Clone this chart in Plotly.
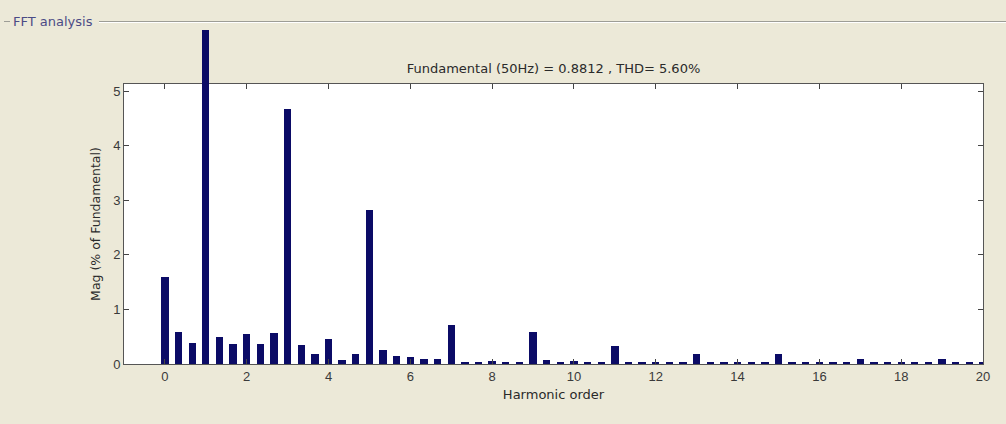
import plotly.graph_objects as go

# ---------------- data ----------------
harmonic_order = [0.0, 0.333, 0.667, 1.0, 1.333, 1.667, 2.0, 2.333, 2.667, 3.0,
                  3.333, 3.667, 4.0, 4.333, 4.667, 5.0, 5.333, 5.667, 6.0, 6.333,
                  6.667, 7.0, 7.333, 7.667, 8.0, 8.333, 8.667, 9.0, 9.333, 9.667,
                  10.0, 10.333, 10.667, 11.0, 11.333, 11.667, 12.0, 12.333, 12.667, 13.0,
                  13.333, 13.667, 14.0, 14.333, 14.667, 15.0, 15.333, 15.667, 16.0, 16.333,
                  16.667, 17.0, 17.333, 17.667, 18.0, 18.333, 18.667, 19.0, 19.333, 19.667,
                  20.0]
mag_pct = [1.60, 0.59, 0.39, 100.0, 0.50, 0.37, 0.55, 0.37, 0.57, 4.67,
           0.34, 0.18, 0.45, 0.07, 0.18, 2.82, 0.25, 0.14, 0.12, 0.09,
           0.09, 0.71, 0.02, 0.04, 0.05, 0.02, 0.02, 0.59, 0.07, 0.04,
           0.05, 0.04, 0.04, 0.33, 0.02, 0.02, 0.03, 0.02, 0.02, 0.18,
           0.02, 0.02, 0.02, 0.02, 0.02, 0.18, 0.02, 0.02, 0.02, 0.02,
           0.02, 0.10, 0.02, 0.02, 0.02, 0.02, 0.02, 0.10, 0.02, 0.02,
           0.02]
x_ticks = [0, 2, 4, 6, 8, 10, 12, 14, 16, 18, 20]
y_ticks = [0, 1, 2, 3, 4, 5]
title_text = "Fundamental (50Hz) = 0.8812 , THD= 5.60%"
panel_text = "FFT analysis"

# ---------------- layout constants ----------------
W, H = 1006, 424
L, R = 124, 983          # plot frame left / right (px)
AX_TOP, AX_BOT = 84, 364  # axes frame top / bottom (px)
OVER_TOP = 30             # where the clipped fundamental bar ends (px)
Y_MAX = 5.13
X_RANGE = [-1, 20]
BG = "#ECE9D8"
BAR = "#0B0B66"
TXT = "#2a2a2a"
FONT = "Liberation Sans, Arial, sans-serif"
UI_FONT = "DejaVu Sans, Verdana, sans-serif"

plot_h = AX_BOT - OVER_TOP
px_per_unit = (AX_BOT - AX_TOP) / Y_MAX
main_dom_top = (AX_BOT - AX_TOP) / plot_h
over_range = plot_h / px_per_unit


def px2paper_x(px):
    return (px - L) / (R - L)


def px2paper_y(py):
    return (AX_BOT - py) / plot_h


fund_idx = [i for i, v in enumerate(mag_pct) if v > Y_MAX]
rest_idx = [i for i, v in enumerate(mag_pct) if v <= Y_MAX]

fig = go.Figure()
fig.add_trace(go.Bar(
    x=[harmonic_order[i] for i in rest_idx],
    y=[mag_pct[i] for i in rest_idx],
    width=0.18, marker=dict(color=BAR, line=dict(width=0)),
    xaxis="x", yaxis="y", showlegend=False, hoverinfo="x+y"))
fig.add_trace(go.Bar(
    x=[harmonic_order[i] for i in fund_idx],
    y=[mag_pct[i] for i in fund_idx],
    width=0.18, marker=dict(color=BAR, line=dict(width=0)),
    xaxis="x2", yaxis="y2", showlegend=False, hoverinfo="x+y"))

axis_common = dict(showline=True, linecolor="#555555", linewidth=1, mirror="ticks",
                   ticks="inside", ticklen=5, tickcolor="#444444", showgrid=False,
                   zeroline=False, tickfont=dict(family=FONT, size=13, color="#3a3a3a"))

fig.update_layout(
    width=W, height=H,
    margin=dict(l=L, r=W - R, t=OVER_TOP, b=H - AX_BOT),
    paper_bgcolor=BG, plot_bgcolor="rgba(0,0,0,0)",
    bargap=0,
    font=dict(family=UI_FONT, size=12, color=TXT),
    title=dict(text=title_text, x=0.5, xref="paper", xanchor="center",
               y=1 - 68 / H, yref="container", yanchor="middle",
               font=dict(family=UI_FONT, size=13, color=TXT)),
    xaxis=dict(range=X_RANGE, tickvals=x_ticks, anchor="y", domain=[0, 1],
               title=dict(text="Harmonic order", standoff=7,
                          font=dict(family=UI_FONT, size=13, color=TXT)),
               **axis_common),
    yaxis=dict(range=[0, Y_MAX], tickvals=y_ticks, anchor="x", domain=[0, main_dom_top],
               title=dict(text="Mag (% of Fundamental)", standoff=9,
                          font=dict(family=UI_FONT, size=12.5, color=TXT)),
               **axis_common),
    xaxis2=dict(range=X_RANGE, anchor="y2", domain=[0, 1], visible=False),
    yaxis2=dict(range=[0, over_range], anchor="x2", domain=[0, 1], visible=False),
    shapes=[
        # white axes background
        dict(type="rect", xref="x domain", yref="y domain", x0=0, x1=1, y0=0, y1=1,
             fillcolor="white", line=dict(width=0), layer="below"),
        # etched group-box line
        dict(type="line", xref="paper", yref="paper",
             x0=px2paper_x(99), x1=px2paper_x(W), y0=px2paper_y(21.5), y1=px2paper_y(21.5),
             line=dict(color="#9d9d96", width=1)),
        dict(type="line", xref="paper", yref="paper",
             x0=px2paper_x(99), x1=px2paper_x(W), y0=px2paper_y(22.5), y1=px2paper_y(22.5),
             line=dict(color="#ffffff", width=1)),
        dict(type="line", xref="paper", yref="paper",
             x0=px2paper_x(4), x1=px2paper_x(10), y0=px2paper_y(21.5), y1=px2paper_y(21.5),
             line=dict(color="#9d9d96", width=1)),
    ],
    annotations=[
        dict(text=panel_text, xref="paper", yref="paper",
             x=px2paper_x(11), y=px2paper_y(21), xanchor="left", yanchor="middle",
             showarrow=False, font=dict(family=UI_FONT, size=13, color="#4b4b86")),
    ],
)

fig.write_html("out.html")
